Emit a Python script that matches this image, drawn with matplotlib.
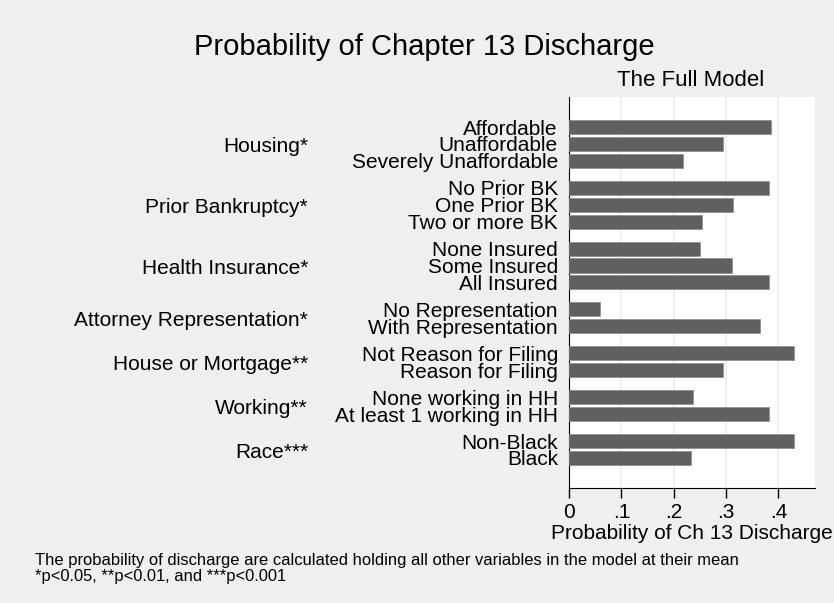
import matplotlib.pyplot as plt

plt.rcParams["font.family"] = ["Liberation Sans", "DejaVu Sans"]

BG = "#efefef"
BAR = "#606060"

groups = [
    "Housing*",
    "Prior Bankruptcy*",
    "Health Insurance*",
    "Attorney Representation*",
    "House or Mortgage**",
    "Working**",
    "Race***",
]
categories = [
    ["Affordable", "Unaffordable", "Severely Unaffordable"],
    ["No Prior BK", "One Prior BK", "Two or more BK"],
    ["None Insured", "Some Insured", "All Insured"],
    ["No Representation", "With Representation"],
    ["Not Reason for Filing", "Reason for Filing"],
    ["None working in HH", "At least 1 working in HH"],
    ["Non-Black", "Black"],
]
probs = [
    [0.386, 0.295, 0.218],
    [0.383, 0.313, 0.254],
    [0.251, 0.312, 0.382],
    [0.060, 0.365],
    [0.429, 0.295],
    [0.237, 0.383],
    [0.429, 0.233],
]
xticks = [0, 0.1, 0.2, 0.3, 0.4]
xtick_labels = ["0", ".1", ".2", ".3", ".4"]

GAP = 0.6
FS = 15

fig = plt.figure(figsize=(8.34, 6.03), dpi=100, facecolor=BG)
ax = fig.add_axes([569 / 834, 1 - 488 / 603, 246 / 834, 391 / 603])
ax.set_facecolor("white")

# stack bars with a small gap between the groups (like Stata's over())
pos = 0.0
label_y, label_txt, vals, group_centers = [], [], [], []
for cats, vs in zip(categories, probs):
    start = pos
    for c, v in zip(cats, vs):
        label_y.append(pos)
        label_txt.append(c)
        vals.append(v)
        pos += 1
    group_centers.append((start + pos - 1) / 2)
    pos += GAP

ax.barh(label_y, vals, height=0.84, color=BAR, edgecolor="#8a8a8a",
        linewidth=0.5, zorder=3)
ax.set_ylim(label_y[-1] + 1.78, -1.78)
ax.set_xlim(0, 0.47)

ax.set_yticks(label_y)
ax.set_yticklabels(label_txt, fontsize=FS)
ax.tick_params(axis="y", length=0, pad=8)
ax.tick_params(axis="x", length=7, width=1, labelsize=FS, pad=4)
ax.set_xticks(xticks)
ax.set_xticklabels(xtick_labels)
ax.xaxis.grid(True, color="#ececec", linewidth=1.2, zorder=0)
ax.set_axisbelow(True)

for s in ["top", "right"]:
    ax.spines[s].set_visible(False)

for g, yc in zip(groups, group_centers):
    disp = ax.transData.transform((0, yc))
    fig.text(308 / 834, (disp[1] - 3) / 603, g, fontsize=FS, ha="right", va="center")

ax.set_xlabel("Probability of Ch 13 Discharge", fontsize=FS, labelpad=1)

fig.text(424 / 834, 1 - 47 / 603, "Probability of Chapter 13 Discharge",
         fontsize=21, ha="center", va="center")
fig.text(691 / 834, 1 - 80 / 603, "The Full Model", fontsize=16,
         ha="center", va="center")

fig.text(35 / 834, 1 - 561 / 603,
         "The probability of discharge are calculated holding all other variables in the model at their mean",
         fontsize=11.9, ha="left", va="center")
fig.text(35 / 834, 1 - 576 / 603, "*p<0.05, **p<0.01, and ***p<0.001",
         fontsize=11.9, ha="left", va="center")

fig.savefig("out.png", dpi=100, facecolor=BG)
